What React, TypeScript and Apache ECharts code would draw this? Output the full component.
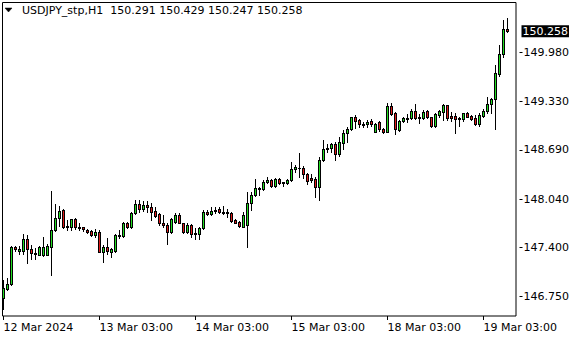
import React, { useEffect, useRef } from "react";
import * as echarts from "echarts";

const FONT = '"DejaVu Sans", sans-serif';
const BULL = "#22dd22";
const BEAR = "#dd1a1a";

const symbolName = "USDJPY_stp,H1";

const opens = [
  146.729, 146.848, 146.914, 147.407, 147.354, 147.358, 147.509, 147.376, 147.314, 147.305,
  147.305, 147.305, 147.411, 147.631, 147.786, 147.896, 147.675, 147.675, 147.777, 147.675,
  147.671, 147.631, 147.622, 147.561, 147.609, 147.345, 147.403, 147.345, 147.354, 147.552,
  147.552, 147.72, 147.675, 147.852, 147.975, 147.905, 147.962, 147.931, 147.883, 147.839,
  147.728, 147.698, 147.609, 147.741, 147.83, 147.72, 147.609, 147.698, 147.575, 147.575,
  147.654, 147.873, 147.839, 147.887, 147.905, 147.873, 147.865, 147.852, 147.76, 147.741,
  147.675, 147.698, 147.984, 148.094, 148.169, 148.169, 148.262, 148.292, 148.217, 148.302,
  148.262, 148.249, 148.292, 148.434, 148.447, 148.455, 148.368, 148.315, 148.302, 148.196,
  148.553, 148.702, 148.711, 148.768, 148.632, 148.785, 148.909, 148.962, 149.121, 149.085,
  149.032, 149.028, 149.072, 148.931, 149.055, 148.966, 148.931, 149.27, 149.174, 148.953,
  149.076, 149.098, 149.108, 149.208, 149.121, 149.108, 149.204, 149.121, 149.006, 149.158,
  149.195, 149.283, 149.138, 149.138, 149.108, 149.094, 149.174, 149.138, 149.108, 149.028,
  149.138, 149.204, 149.297, 149.359, 149.689, 149.953, 150.291,
];
const closes = [
  146.861, 146.914, 147.411, 147.376, 147.38, 147.509, 147.376, 147.324, 147.324, 147.403,
  147.403, 147.42, 147.631, 147.786, 147.883, 147.675, 147.688, 147.773, 147.675, 147.662,
  147.641, 147.601, 147.561, 147.609, 147.345, 147.403, 147.358, 147.376, 147.561, 147.565,
  147.72, 147.667, 147.852, 147.975, 147.905, 147.962, 147.931, 147.873, 147.82, 147.72,
  147.698, 147.609, 147.773, 147.83, 147.728, 147.601, 147.698, 147.575, 147.596, 147.654,
  147.873, 147.839, 147.887, 147.896, 147.873, 147.852, 147.86, 147.754, 147.728, 147.684,
  147.83, 147.984, 148.094, 148.183, 148.183, 148.262, 148.292, 148.217, 148.305, 148.256,
  148.253, 148.292, 148.434, 148.464, 148.455, 148.368, 148.283, 148.292, 148.196, 148.557,
  148.702, 148.719, 148.764, 148.632, 148.794, 148.909, 148.966, 149.121, 149.076, 149.028,
  149.023, 149.065, 149.028, 149.032, 148.962, 148.923, 149.27, 149.164, 148.962, 149.076,
  149.108, 149.108, 149.208, 149.108, 149.108, 149.195, 149.121, 149.006, 149.16, 149.201,
  149.283, 149.108, 149.116, 149.094, 149.098, 149.174, 149.129, 149.094, 149.032, 149.151,
  149.208, 149.297, 149.359, 149.71, 149.953, 150.291, 150.258,
];
const lows = [
  146.588, 146.839, 146.905, 147.358, 147.314, 147.314, 147.191, 147.252, 147.252, 147.297,
  147.288, 147.297, 147.037, 147.622, 147.684, 147.654, 147.631, 147.631, 147.641, 147.631,
  147.622, 147.596, 147.552, 147.543, 147.337, 147.213, 147.314, 147.271, 147.345, 147.522,
  147.543, 147.654, 147.654, 147.843, 147.873, 147.887, 147.873, 147.764, 147.807, 147.698,
  147.667, 147.446, 147.588, 147.728, 147.72, 147.588, 147.588, 147.535, 147.509, 147.509,
  147.641, 147.83, 147.83, 147.86, 147.852, 147.839, 147.799, 147.741, 147.72, 147.667,
  147.667, 147.411, 147.896, 148.081, 148.094, 148.16, 148.249, 148.204, 148.204, 148.243,
  148.213, 148.235, 148.279, 148.398, 148.336, 148.323, 148.235, 148.262, 148.072, 148.028,
  148.543, 148.666, 148.658, 148.557, 148.613, 148.702, 148.798, 148.953, 148.975, 148.997,
  148.989, 148.997, 149.01, 148.923, 148.944, 148.917, 148.923, 149.151, 148.896, 148.944,
  149.063, 149.055, 149.098, 149.094, 149.042, 149.094, 149.108, 148.997, 148.997, 149.125,
  149.085, 149.085, 149.072, 148.909, 149.006, 149.076, 149.121, 149.085, 149.019, 149.01,
  149.121, 149.182, 149.174, 148.962, 149.667, 149.922, 150.247,
];
const highs = [
  146.971, 146.993, 147.424, 147.424, 147.424, 147.575, 147.565, 147.429, 147.398, 147.42,
  147.543, 147.446, 148.147, 147.971, 147.949, 147.905, 147.764, 147.78, 147.786, 147.72,
  147.675, 147.641, 147.631, 147.641, 147.631, 147.429, 147.522, 147.39, 147.575, 147.631,
  147.741, 147.741, 147.873, 148.028, 148.028, 148.019, 148.019, 147.984, 147.931, 147.86,
  147.83, 147.72, 147.786, 147.852, 147.852, 147.728, 147.72, 147.707, 147.654, 147.675,
  147.896, 147.896, 147.939, 147.939, 147.931, 147.949, 147.905, 147.873, 147.773, 147.754,
  147.873, 148.138, 148.138, 148.302, 148.204, 148.292, 148.336, 148.305, 148.323, 148.323,
  148.272, 148.302, 148.534, 148.49, 148.645, 148.481, 148.381, 148.368, 148.336, 148.6,
  148.821, 148.764, 148.785, 148.798, 148.857, 148.953, 148.989, 149.129, 149.151, 149.098,
  149.063, 149.092, 149.094, 149.042, 149.072, 148.983, 149.306, 149.314, 149.195, 149.085,
  149.121, 149.16, 149.226, 149.297, 149.16, 149.217, 149.217, 149.129, 149.174, 149.221,
  149.297, 149.29, 149.195, 149.174, 149.121, 149.182, 149.195, 149.151, 149.151, 149.182,
  149.226, 149.385, 149.372, 149.812, 150.076, 150.407, 150.429,
];

// time-axis labels and the bar index they sit on
const xTickIndex = [0, 24, 48, 72, 96, 120];
const xTickLabels = ["12 Mar 2024", "13 Mar 03:00", "14 Mar 03:00", "15 Mar 03:00", "18 Mar 03:00", "19 Mar 03:00"];
// price-scale ticks
const yTicks = [146.75, 147.4, 148.04, 148.69, 149.33, 149.98];
const yMin = 146.495;
const yMax = 150.645;
const emptySlots = 2; // chart shift at the right

export default function App() {
  const ref = useRef<HTMLDivElement>(null);
  useEffect(() => {
    document.body.style.margin = "0";
    if (!ref.current) return;
    const chart = echarts.init(ref.current, null, { renderer: "svg" });
    const n = opens.length;
    const categories = Array.from({ length: n + emptySlots }, (_, i) => String(i));
    const candleData = opens.map((o, i) => [i, o, closes[i], lows[i], highs[i]]);
    const last = n - 1;
    const header = `${symbolName}  ${opens[last].toFixed(3)} ${highs[last].toFixed(3)} ${lows[last].toFixed(3)} ${closes[last].toFixed(3)}`;
    const isTick = (idx: number) => xTickIndex.includes(idx);

    const renderCandle = (_params: any, api: any) => {
      const idx = api.value(0);
      const o = api.value(1);
      const c = api.value(2);
      const l = api.value(3);
      const h = api.value(4);
      const po = api.coord([idx, o]);
      const yc = api.coord([idx, c])[1];
      const yl = api.coord([idx, l])[1];
      const yh = api.coord([idx, h])[1];
      const px = Math.floor(po[0]);
      const top = Math.round(Math.min(po[1], yc));
      const bot = Math.round(Math.max(po[1], yc));
      const wTop = Math.round(yh);
      const wBot = Math.round(yl);
      const fill = c > o ? BULL : c < o ? BEAR : "#000";
      const children: any[] = [
        { type: "rect", shape: { x: px, y: wTop, width: 1, height: Math.max(1, wBot - wTop + 1) }, style: { fill: "#000" } },
        { type: "rect", shape: { x: px - 1, y: top, width: 3, height: bot - top + 1 }, style: { fill: "#000" } },
      ];
      if (bot - top >= 2) {
        children.push({ type: "rect", shape: { x: px, y: top + 1, width: 1, height: bot - top - 1 }, style: { fill } });
      }
      return { type: "group", children };
    };

    chart.setOption({
      animation: false,
      backgroundColor: "#fff",
      title: {
        text: header,
        left: 22,
        top: 5,
        padding: 0,
        textStyle: { fontFamily: FONT, fontSize: 11, fontWeight: "normal", color: "#000" },
      },
      grid: { left: 1.5, top: 2, width: (n + emptySlots) * 4, bottom: 24, containLabel: false },
      xAxis: {
        type: "category",
        data: categories,
        boundaryGap: true,
        axisLine: { show: false },
        splitLine: { show: false },
        axisTick: {
          show: true,
          alignWithLabel: true,
          length: 4,
          interval: (idx: number) => isTick(idx),
          lineStyle: { color: "#000", width: 1 },
        },
        axisLabel: {
          interval: (idx: number) => isTick(idx),
          formatter: (_v: string, idx: number) => {
            const k = xTickIndex.indexOf(idx);
            return k >= 0 ? xTickLabels[k] : "";
          },
          align: "left",
          margin: 6,
          color: "#000",
          fontFamily: FONT,
          fontSize: 11,
        },
      },
      yAxis: {
        type: "value",
        position: "right",
        min: yMin,
        max: yMax,
        scale: true,
        offset: 2,
        splitLine: { show: false },
        axisLine: { show: true, lineStyle: { color: "rgba(0,0,0,0)" } },
        axisTick: {
          show: true,
          length: 3,
          customValues: yTicks,
          lineStyle: { color: "#000", width: 1 },
        },
        axisLabel: {
          customValues: yTicks,
          formatter: (v: number) => v.toFixed(3),
          margin: 4,
          color: "#000",
          fontFamily: FONT,
          fontSize: 11,
        },
      },
      graphic: {
        elements: [
          {
            type: "rect",
            z: 10,
            silent: true,
            shape: { x: 2.5, y: 2.5, width: 513.5, height: 313.5 },
            style: { fill: "none", stroke: "#000", lineWidth: 1 },
          },
          {
            type: "polygon",
            z: 10,
            x: 0,
            y: 0,
            shape: { points: [[5, 8], [12, 8], [8.5, 12]] },
            style: { fill: "#000", stroke: "#000", lineWidth: 0.5 },
          },
        ],
      },
      series: [
        {
          type: "custom",
          name: "candles",
          data: candleData,
          encode: { x: 0, y: [1, 2, 3, 4] },
          renderItem: renderCandle,
          clip: true,
        },
        {
          type: "line",
          name: "last",
          data: closes,
          showSymbol: false,
          silent: true,
          lineStyle: { opacity: 0 },
          markLine: {
            silent: true,
            symbol: "none",
            lineStyle: { color: "rgba(0,0,0,0)", width: 1, type: "solid" },
            label: {
              show: true,
              position: "end",
              distance: 4,
              formatter: () => closes[last].toFixed(3),
              backgroundColor: "#000",
              color: "#fff",
              fontFamily: FONT,
              fontSize: 11,
              lineHeight: 12,
              padding: [0, 1, 0, 1],
            },
            data: [{ yAxis: closes[last] }],
          },
        },
      ],
    });
    return () => chart.dispose();
  }, []);
  return <div ref={ref} style={{ position: "fixed", left: 0, top: 0, width: 580, height: 340, background: "#fff" }} />;
}
